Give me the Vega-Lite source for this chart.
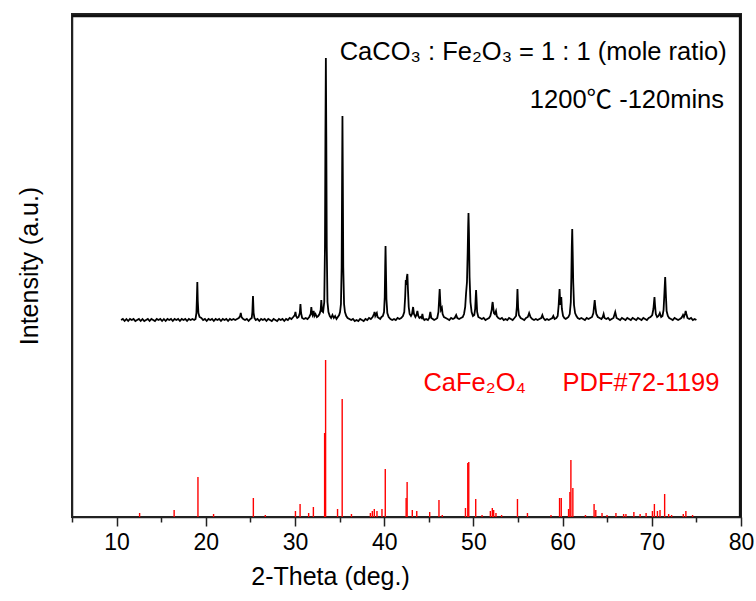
{
  "$schema": "https://vega.github.io/schema/vega-lite/v6.json",
  "width": 669,
  "height": 503,
  "autosize": {"type": "none"},
  "padding": {"left": 72, "top": 14, "right": 15, "bottom": 84},
  "background": "white",
  "config": {
    "view": {"stroke": "#222", "strokeWidth": 2},
    "font": "Liberation Sans"
  },
  "datasets": {
    "trace": [
      {"x":10.5,"y":197},{"x":10.7,"y":198},{"x":10.9,"y":196},{"x":11.1,"y":198},{"x":11.3,"y":196},{"x":11.5,"y":198},{"x":11.7,"y":197},{"x":11.9,"y":198},{"x":12.1,"y":196},{"x":12.3,"y":197},{"x":12.5,"y":198},{"x":12.7,"y":196},{"x":12.9,"y":198},{"x":13.1,"y":196},{"x":13.3,"y":197},{"x":13.5,"y":198},{"x":13.7,"y":196},{"x":13.9,"y":198},{"x":14.1,"y":197},{"x":14.3,"y":196},{"x":14.5,"y":198},{"x":14.7,"y":197},{"x":14.9,"y":198},{"x":15.1,"y":196},{"x":15.3,"y":198},{"x":15.5,"y":196},{"x":15.7,"y":198},{"x":15.9,"y":197},{"x":16.1,"y":198},{"x":16.3,"y":196},{"x":16.5,"y":198},{"x":16.7,"y":197},{"x":16.9,"y":198},{"x":17.1,"y":196},{"x":17.3,"y":198},{"x":17.5,"y":197},{"x":17.7,"y":198},{"x":17.9,"y":196},{"x":18.1,"y":198},{"x":18.3,"y":197},{"x":18.5,"y":198},{"x":18.7,"y":197},
      {"x":18.85,"y":198},{"x":18.95,"y":204},{"x":19.0,"y":218},{"x":19.05,"y":235},{"x":19.1,"y":216},{"x":19.17,"y":204},{"x":19.3,"y":200},
      {"x":19.5,"y":199},{"x":19.7,"y":197},{"x":19.9,"y":198},{"x":20.1,"y":196},{"x":20.3,"y":198},{"x":20.5,"y":197},{"x":20.7,"y":198},{"x":20.9,"y":196},{"x":21.1,"y":198},{"x":21.3,"y":197},{"x":21.5,"y":198},{"x":21.7,"y":196},{"x":21.9,"y":198},{"x":22.1,"y":197},{"x":22.3,"y":198},{"x":22.5,"y":196},{"x":22.7,"y":198},{"x":22.9,"y":197},{"x":23.1,"y":198},{"x":23.3,"y":197},{"x":23.5,"y":198},{"x":23.7,"y":199},
      {"x":23.85,"y":201},{"x":23.92,"y":204},{"x":24.0,"y":200},{"x":24.2,"y":198},{"x":24.4,"y":197},{"x":24.6,"y":198},{"x":24.8,"y":196},{"x":25.0,"y":198},{"x":25.15,"y":199},
      {"x":25.22,"y":205},{"x":25.29,"y":221},{"x":25.36,"y":204},{"x":25.45,"y":199},{"x":25.6,"y":197},{"x":25.8,"y":198},{"x":26.0,"y":196},{"x":26.2,"y":198},{"x":26.4,"y":197},{"x":26.6,"y":198},{"x":26.8,"y":196},{"x":27.0,"y":198},{"x":27.2,"y":197},{"x":27.4,"y":196},{"x":27.6,"y":198},{"x":27.8,"y":197},{"x":28.0,"y":196},{"x":28.2,"y":198},{"x":28.4,"y":197},{"x":28.6,"y":198},{"x":28.8,"y":196},{"x":29.0,"y":198},{"x":29.2,"y":197},{"x":29.4,"y":199},{"x":29.6,"y":198},{"x":29.8,"y":200},
      {"x":29.98,"y":202},{"x":30.05,"y":205},{"x":30.12,"y":201},{"x":30.25,"y":199},{"x":30.4,"y":200},
      {"x":30.54,"y":204},{"x":30.61,"y":213},{"x":30.68,"y":204},{"x":30.8,"y":199},{"x":31.0,"y":198},{"x":31.2,"y":199},{"x":31.4,"y":198},{"x":31.6,"y":200},
      {"x":31.76,"y":203},{"x":31.83,"y":210},{"x":31.9,"y":204},{"x":31.97,"y":202},{"x":32.09,"y":206},{"x":32.18,"y":201},{"x":32.3,"y":203},{"x":32.45,"y":200},{"x":32.6,"y":201},{"x":32.75,"y":203},
      {"x":32.88,"y":207},{"x":32.95,"y":217},{"x":33.03,"y":206},{"x":33.15,"y":205},{"x":33.28,"y":215},{"x":33.36,"y":270},{"x":33.41,"y":380},{"x":33.46,"y":459},{"x":33.51,"y":380},{"x":33.56,"y":270},{"x":33.64,"y":215},{"x":33.75,"y":205},{"x":33.9,"y":201},{"x":34.05,"y":199},{"x":34.2,"y":202},{"x":34.35,"y":199},{"x":34.5,"y":201},{"x":34.65,"y":198},{"x":34.8,"y":200},{"x":34.95,"y":202},
      {"x":35.05,"y":205},{"x":35.15,"y":213},{"x":35.23,"y":250},{"x":35.28,"y":340},{"x":35.32,"y":401},{"x":35.36,"y":340},{"x":35.41,"y":250},{"x":35.5,"y":213},{"x":35.6,"y":205},{"x":35.75,"y":201},{"x":35.9,"y":199},{"x":36.1,"y":198},{"x":36.3,"y":197},{"x":36.5,"y":198},{"x":36.7,"y":196},{"x":36.9,"y":197},{"x":37.1,"y":196},{"x":37.3,"y":198},{"x":37.5,"y":197},{"x":37.7,"y":196},{"x":37.9,"y":198},{"x":38.1,"y":197},{"x":38.3,"y":199},{"x":38.5,"y":198},{"x":38.7,"y":200},
      {"x":38.85,"y":203},{"x":38.92,"y":205},{"x":39.0,"y":201},{"x":39.1,"y":203},{"x":39.17,"y":204},{"x":39.25,"y":200},{"x":39.4,"y":199},{"x":39.55,"y":198},{"x":39.7,"y":200},{"x":39.85,"y":201},
      {"x":39.98,"y":205},{"x":40.06,"y":220},{"x":40.11,"y":250},{"x":40.15,"y":271},{"x":40.19,"y":250},{"x":40.25,"y":218},{"x":40.35,"y":204},{"x":40.5,"y":200},{"x":40.7,"y":198},{"x":40.9,"y":197},{"x":41.1,"y":198},{"x":41.3,"y":197},{"x":41.5,"y":199},{"x":41.7,"y":198},{"x":41.9,"y":199},
      {"x":42.1,"y":201},{"x":42.25,"y":205},{"x":42.35,"y":220},{"x":42.42,"y":237},{"x":42.48,"y":232},{"x":42.54,"y":240},{"x":42.6,"y":243},{"x":42.66,"y":228},{"x":42.75,"y":210},{"x":42.85,"y":203},{"x":43.0,"y":201},{"x":43.12,"y":203},
      {"x":43.24,"y":210},{"x":43.34,"y":203},{"x":43.5,"y":200},{"x":43.62,"y":202},{"x":43.72,"y":206},{"x":43.82,"y":201},{"x":43.95,"y":199},{"x":44.1,"y":200},{"x":44.2,"y":199},{"x":44.28,"y":203},{"x":44.36,"y":199},{"x":44.5,"y":197},{"x":44.7,"y":198},{"x":44.9,"y":197},{"x":45.05,"y":199},{"x":45.17,"y":205},{"x":45.28,"y":199},{"x":45.45,"y":198},{"x":45.6,"y":197},{"x":45.8,"y":198},{"x":45.95,"y":199},
      {"x":46.08,"y":205},{"x":46.16,"y":218},{"x":46.22,"y":228},{"x":46.29,"y":215},{"x":46.36,"y":207},{"x":46.47,"y":209},{"x":46.55,"y":203},{"x":46.7,"y":200},{"x":46.9,"y":199},{"x":47.1,"y":198},{"x":47.3,"y":197},{"x":47.5,"y":199},{"x":47.7,"y":198},{"x":47.9,"y":199},{"x":48.07,"y":202},{"x":48.2,"y":199},{"x":48.4,"y":198},{"x":48.6,"y":199},{"x":48.8,"y":200},
      {"x":48.95,"y":203},{"x":49.08,"y":210},{"x":49.18,"y":224},{"x":49.28,"y":235},{"x":49.36,"y":265},{"x":49.41,"y":290},{"x":49.45,"y":304},{"x":49.5,"y":285},{"x":49.57,"y":240},{"x":49.67,"y":215},{"x":49.8,"y":205},{"x":49.95,"y":201},
      {"x":50.1,"y":202},{"x":50.2,"y":208},{"x":50.26,"y":220},{"x":50.3,"y":227},{"x":50.34,"y":220},{"x":50.42,"y":205},{"x":50.55,"y":200},{"x":50.75,"y":199},{"x":50.95,"y":198},{"x":51.15,"y":199},{"x":51.35,"y":197},{"x":51.55,"y":198},{"x":51.75,"y":199},
      {"x":51.9,"y":201},{"x":52.05,"y":207},{"x":52.12,"y":213},{"x":52.16,"y":215},{"x":52.22,"y":210},{"x":52.3,"y":204},{"x":52.4,"y":203},{"x":52.53,"y":206},{"x":52.62,"y":201},{"x":52.8,"y":199},{"x":53.0,"y":198},{"x":53.2,"y":199},{"x":53.4,"y":197},{"x":53.6,"y":198},{"x":53.8,"y":197},{"x":54.0,"y":199},{"x":54.2,"y":198},{"x":54.4,"y":197},{"x":54.6,"y":199},
      {"x":54.78,"y":201},{"x":54.87,"y":210},{"x":54.94,"y":228},{"x":55.01,"y":210},{"x":55.1,"y":202},{"x":55.3,"y":199},{"x":55.5,"y":198},{"x":55.7,"y":197},{"x":55.9,"y":199},{"x":56.1,"y":200},{"x":56.25,"y":204},{"x":56.4,"y":200},{"x":56.6,"y":198},{"x":56.8,"y":197},{"x":57.0,"y":198},{"x":57.2,"y":197},{"x":57.4,"y":198},{"x":57.6,"y":199},{"x":57.73,"y":202},{"x":57.85,"y":199},{"x":58.05,"y":197},{"x":58.25,"y":198},{"x":58.45,"y":197},{"x":58.65,"y":198},{"x":58.85,"y":199},{"x":58.96,"y":201},{"x":59.1,"y":198},{"x":59.3,"y":199},
      {"x":59.45,"y":201},{"x":59.56,"y":212},{"x":59.66,"y":228},{"x":59.74,"y":212},{"x":59.8,"y":218},{"x":59.85,"y":220},{"x":59.92,"y":208},{"x":60.05,"y":201},{"x":60.2,"y":199},{"x":60.35,"y":198},{"x":60.5,"y":199},{"x":60.65,"y":200},
      {"x":60.8,"y":203},{"x":60.92,"y":215},{"x":60.98,"y":240},{"x":61.03,"y":270},{"x":61.08,"y":288},{"x":61.13,"y":265},{"x":61.19,"y":235},{"x":61.28,"y":212},{"x":61.4,"y":204},{"x":61.55,"y":201},{"x":61.7,"y":199},{"x":61.9,"y":198},{"x":62.1,"y":199},{"x":62.3,"y":198},{"x":62.5,"y":197},{"x":62.7,"y":199},{"x":62.9,"y":198},{"x":63.1,"y":199},{"x":63.3,"y":200},
      {"x":63.45,"y":204},{"x":63.53,"y":211},{"x":63.6,"y":217},{"x":63.67,"y":210},{"x":63.78,"y":203},{"x":63.95,"y":200},{"x":64.15,"y":199},{"x":64.35,"y":198},{"x":64.5,"y":200},{"x":64.6,"y":203},{"x":64.7,"y":199},{"x":64.9,"y":198},{"x":65.1,"y":199},{"x":65.3,"y":197},{"x":65.5,"y":198},{"x":65.7,"y":199},{"x":65.9,"y":205},{"x":66.05,"y":199},{"x":66.25,"y":198},{"x":66.45,"y":197},{"x":66.65,"y":199},{"x":66.85,"y":198},{"x":67.05,"y":197},{"x":67.25,"y":199},{"x":67.45,"y":198},{"x":67.65,"y":197},{"x":67.85,"y":199},{"x":68.05,"y":198},{"x":68.25,"y":197},{"x":68.45,"y":199},{"x":68.65,"y":198},{"x":68.85,"y":197},{"x":69.05,"y":199},{"x":69.25,"y":198},{"x":69.45,"y":197},{"x":69.65,"y":199},{"x":69.85,"y":200},
      {"x":70.05,"y":202},{"x":70.18,"y":208},{"x":70.25,"y":215},{"x":70.3,"y":220},{"x":70.36,"y":212},{"x":70.45,"y":203},{"x":70.6,"y":200},{"x":70.75,"y":201},{"x":70.9,"y":204},{"x":71.05,"y":200},{"x":71.2,"y":201},
      {"x":71.32,"y":207},{"x":71.42,"y":225},{"x":71.5,"y":240},{"x":71.57,"y":224},{"x":71.66,"y":206},{"x":71.8,"y":201},{"x":71.95,"y":199},{"x":72.15,"y":198},{"x":72.35,"y":197},{"x":72.55,"y":199},{"x":72.75,"y":198},{"x":72.95,"y":197},{"x":73.15,"y":198},{"x":73.3,"y":199},{"x":73.45,"y":201},{"x":73.5,"y":202},{"x":73.6,"y":200},{"x":73.72,"y":203},{"x":73.8,"y":206},{"x":73.88,"y":203},{"x":74.0,"y":199},{"x":74.2,"y":198},{"x":74.4,"y":199},{"x":74.6,"y":197},{"x":74.8,"y":198},{"x":75.0,"y":197}
    ],
    "sticks": [
      {"x":12.58,"h":4},{"x":16.45,"h":7},{"x":19.12,"h":40},{"x":20.87,"h":3},{"x":25.33,"h":19},{"x":26.67,"h":2},{"x":30.05,"h":6},{"x":30.57,"h":13},{"x":31.53,"h":4},{"x":32.06,"h":10},{"x":33.32,"h":84},{"x":33.43,"h":157},{"x":34.77,"h":8},{"x":35.29,"h":118},{"x":36.33,"h":3},{"x":38.45,"h":4},{"x":38.67,"h":6},{"x":38.89,"h":8},{"x":39.19,"h":6},{"x":39.75,"h":8},{"x":40.12,"h":48},{"x":42.46,"h":19},{"x":42.57,"h":35},{"x":43.15,"h":7},{"x":43.65,"h":6},{"x":45.1,"h":5},{"x":46.14,"h":17},{"x":46.51,"h":2},{"x":49.11,"h":9},{"x":49.37,"h":54},{"x":49.48,"h":55},{"x":50.26,"h":18},{"x":50.97,"h":2},{"x":51.9,"h":6},{"x":52.12,"h":9},{"x":52.27,"h":7},{"x":52.53,"h":4},{"x":53.16,"h":2},{"x":54.94,"h":18},{"x":56.06,"h":4},{"x":58.7,"h":2},{"x":59.66,"h":19},{"x":59.85,"h":19},{"x":60.67,"h":8},{"x":60.82,"h":25},{"x":60.93,"h":57},{"x":61.15,"h":29},{"x":62.56,"h":2},{"x":63.53,"h":13},{"x":63.72,"h":7},{"x":64.42,"h":4},{"x":64.98,"h":2},{"x":65.98,"h":4},{"x":66.84,"h":3},{"x":67.1,"h":3},{"x":67.99,"h":5},{"x":68.69,"h":3},{"x":69.36,"h":4},{"x":70.07,"h":6},{"x":70.29,"h":13},{"x":70.63,"h":6},{"x":70.92,"h":7},{"x":71.44,"h":23},{"x":71.89,"h":3},{"x":72.22,"h":2},{"x":73.53,"h":3},{"x":73.82,"h":6},{"x":74.57,"h":2}
    ],
    "notes": [
      {"kind":"sample","x":78.4,"y":465,"label":"CaCO₃ : Fe₂O₃ = 1 : 1 (mole ratio)"},
      {"kind":"sample","x":78.1,"y":417,"label":"1200℃ -120mins"},
      {"kind":"reference","x":44.4,"y":134,"label":"CaFe₂O₄"},
      {"kind":"reference","x":60.0,"y":134,"label":"PDF#72-1199"}
    ],
    "frame": [
      {"xa": 5, "xb": 80, "ya": 501, "yb": 501},
      {"xa": 79.9, "xb": 79.9, "ya": 0, "yb": 503}
    ]
  },
  "layer": [
    {
      "data": {"name": "trace"},
      "mark": {"type": "line", "color": "black", "strokeWidth": 1.8, "interpolate": "linear"},
      "encoding": {
        "x": {
          "field": "x", "type": "quantitative",
          "scale": {"domain": [5, 80], "nice": false, "zero": false},
          "axis": {
            "values": [5,10,15,20,25,30,35,40,45,50,55,60,65,70,75,80],
            "labelExpr": "datum.value % 10 === 0 ? datum.label : ''",
            "tickSize": {"condition": {"test": "datum.value % 10 === 0", "value": 9}, "value": 5},
            "title": "2-Theta (deg.)",
            "titleFontSize": 25, "titleFontWeight": "normal", "titleColor": "black",
            "titleFont": "Liberation Sans",
            "titleX": 258,
            "titlePadding": 10,
            "labelFontSize": 23, "labelColor": "black", "labelFont": "Liberation Sans",
            "labelPadding": 5, "labelFlush": false, "labelOverlap": false,
            "domainColor": "#222", "domainWidth": 1.5,
            "tickColor": "#222", "tickWidth": 1.5,
            "grid": false
          }
        },
        "y": {
          "field": "y", "type": "quantitative",
          "scale": {"domain": [0, 503], "nice": false, "zero": true},
          "axis": {
            "title": "Intensity (a.u.)",
            "ticks": false, "labels": false, "grid": false,
            "titleFontSize": 25, "titleFontWeight": "normal", "titleColor": "black",
            "titleFont": "Liberation Sans",
            "titlePadding": 30,
            "domainColor": "#222", "domainWidth": 1.5
          }
        }
      }
    },
    {
      "data": {"name": "frame"},
      "mark": {"type": "rule", "color": "#111", "strokeWidth": 2.5},
      "encoding": {
        "x": {"field": "xa", "type": "quantitative"},
        "x2": {"field": "xb"},
        "y": {"field": "ya", "type": "quantitative"},
        "y2": {"field": "yb"}
      }
    },
    {
      "data": {"name": "sticks"},
      "mark": {"type": "rule", "color": "#ff0000", "strokeWidth": 1.4},
      "encoding": {
        "x": {"field": "x", "type": "quantitative"},
        "y": {"field": "h", "type": "quantitative"},
        "y2": {"datum": 0}
      }
    },
    {
      "data": {"name": "notes"},
      "transform": [{"filter": "datum.kind === 'sample'"}],
      "mark": {"type": "text", "align": "right", "baseline": "middle", "fontSize": 25.5, "color": "black", "font": "Liberation Sans, Noto Sans CJK SC"},
      "encoding": {
        "x": {"field": "x", "type": "quantitative"},
        "y": {"field": "y", "type": "quantitative"},
        "text": {"field": "label"}
      }
    },
    {
      "data": {"name": "notes"},
      "transform": [{"filter": "datum.kind === 'reference'"}],
      "mark": {"type": "text", "align": "left", "baseline": "middle", "fontSize": 25.5, "color": "#ff0000", "font": "Liberation Sans"},
      "encoding": {
        "x": {"field": "x", "type": "quantitative"},
        "y": {"field": "y", "type": "quantitative"},
        "text": {"field": "label"}
      }
    }
  ]
}
